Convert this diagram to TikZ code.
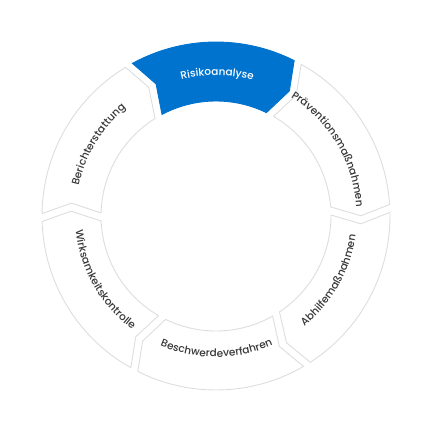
\documentclass[tikz,border=0pt]{standalone}
\usepackage{fontspec}
\newfontfamily\ringfont[Scale=1.05, UprightFont={* Medium}]{Poppins}
\usepackage{tikz}
\usetikzlibrary{decorations.text}
\usepackage{xcolor}
\definecolor{ringblue}{RGB}{0,115,207}
\definecolor{ringline}{RGB}{222,222,222}
\definecolor{ringdark}{RGB}{55,55,55}

\begin{document}
\begin{tikzpicture}
\tikzset{segment/.style={draw=ringline, line width=0.9pt, fill=white, line join=miter}}
\tikzset{active/.style={segment, draw=ringblue, fill=ringblue}}
\tikzset{ringtext/.style={decorate, decoration={text along path, text align=center}}}
\useasboundingbox (-216pt,-216pt) rectangle (216pt,216pt);
% ring segments, each one points clockwise
\draw[active] (118.7:174pt) arc[start angle=118.7, end angle=63.3, radius=174pt] -- (59.6:145pt) -- (64:115pt) arc[start angle=64, end angle=118, radius=115pt] -- (114.4:145pt) -- cycle;
\draw[segment] (60.7:174pt) arc[start angle=60.7, end angle=3.8, radius=174pt] -- (0.1:145pt) -- (4.5:115pt) arc[start angle=4.5, end angle=60, radius=115pt] -- (56.4:145pt) -- cycle;
\draw[segment] (1.2:174pt) arc[start angle=1.2, end angle=-57.2, radius=174pt] -- (-60.9:145pt) -- (-56.5:115pt) arc[start angle=-56.5, end angle=0.5, radius=115pt] -- (-3.1:145pt) -- cycle;
\draw[segment] (-59.8:174pt) arc[start angle=-59.8, end angle=-116.7, radius=174pt] -- (-120.4:145pt) -- (-116:115pt) arc[start angle=-116, end angle=-60.5, radius=115pt] -- (-64.1:145pt) -- cycle;
\draw[segment] (-119.3:174pt) arc[start angle=-119.3, end angle=-178.2, radius=174pt] -- (-181.9:145pt) -- (-177.5:115pt) arc[start angle=-177.5, end angle=-120, radius=115pt] -- (-123.6:145pt) -- cycle;
\draw[segment] (179.2:174pt) arc[start angle=179.2, end angle=121.3, radius=174pt] -- (117.6:145pt) -- (122:115pt) arc[start angle=122, end angle=178.5, radius=115pt] -- (174.9:145pt) -- cycle;
% labels along the ring
\path[ringtext, decoration={text={|\ringfont\color{white}|Risikoanalyse}}] (134.5:140.5pt) arc[start angle=134.5, end angle=44.5, radius=140.5pt];
\path[ringtext, decoration={text={|\ringfont\color{ringdark}|Präventionsmaßnahmen}}] (75.75:140.5pt) arc[start angle=75.75, end angle=-14.25, radius=140.5pt];
\path[ringtext, decoration={text={|\ringfont\color{ringdark}|Abhilfemaßnahmen}}] (-74.5:141pt) arc[start angle=-74.5, end angle=15.5, radius=141pt];
\path[ringtext, decoration={text={|\ringfont\color{ringdark}|Beschwerdeverfahren}}] (-134.75:141pt) arc[start angle=-134.75, end angle=-44.75, radius=141pt];
\path[ringtext, decoration={text={|\ringfont\color{ringdark}|Wirksamkeitskontrolle}}] (-195.25:141pt) arc[start angle=-195.25, end angle=-105.25, radius=141pt];
\path[ringtext, decoration={text={|\ringfont\color{ringdark}|Berichterstattung}}] (193.75:140.5pt) arc[start angle=193.75, end angle=103.75, radius=140.5pt];
\end{tikzpicture}
\end{document}
